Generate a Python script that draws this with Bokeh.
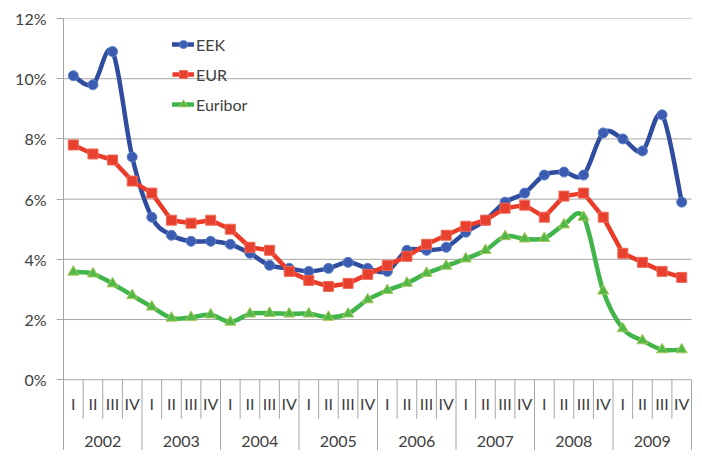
from bokeh.plotting import figure
from bokeh.models import (Range1d, FixedTicker, CustomJSTickFormatter, Legend, LegendItem,
                          ColumnDataSource, LinearAxis)
from bokeh.core.properties import value
from bokeh.embed import file_html
from bokeh.resources import INLINE

years = ["2002", "2003", "2004", "2005", "2006", "2007", "2008", "2009"]
quarters = ["I", "II", "III", "IV"]

eek = [10.1, 9.8, 10.9, 7.4, 5.4, 4.8, 4.6, 4.6, 4.5, 4.2, 3.8, 3.7,
       3.6, 3.7, 3.9, 3.7, 3.6, 4.3, 4.3, 4.4, 4.9, 5.3, 5.9, 6.2,
       6.8, 6.9, 6.8, 8.2, 8.0, 7.6, 8.8, 5.9]
eur = [7.8, 7.5, 7.3, 6.6, 6.2, 5.3, 5.2, 5.3, 5.0, 4.4, 4.3, 3.6,
       3.3, 3.1, 3.2, 3.5, 3.8, 4.1, 4.5, 4.8, 5.1, 5.3, 5.7, 5.8,
       5.4, 6.1, 6.2, 5.4, 4.2, 3.9, 3.6, 3.4]
euribor = [3.58, 3.52, 3.19, 2.8, 2.42, 2.05, 2.07, 2.16, 1.92, 2.19, 2.21, 2.19,
           2.19, 2.08, 2.19, 2.66, 2.97, 3.21, 3.54, 3.78, 4.02, 4.3, 4.76, 4.68,
           4.7, 5.15, 5.4, 2.95, 1.7, 1.3, 1.0, 1.0]

y_ticks = [0, 2, 4, 6, 8, 10, 12]

FONT = "Lato"
GRID = "#a6a6a6"
TEXT = "#404040"

n = len(eek)
xs = [i + 0.5 for i in range(n)]

p = figure(width=692, height=450, output_backend="svg", toolbar_location=None,
           x_axis_type=None, y_axis_type=None,
           x_range=Range1d(0, 32.05), y_range=Range1d(-2.35, 12.0),
           min_border_left=63, min_border_right=0, min_border_top=18, min_border_bottom=0)
p.outline_line_color = None
p.background_fill_color = "white"
p.xgrid.visible = False

yaxis = LinearAxis(ticker=FixedTicker(ticks=y_ticks),
                   formatter=CustomJSTickFormatter(code="return tick.toFixed(0) + '%';"))
yaxis.axis_line_color = GRID
yaxis.major_tick_line_color = GRID
yaxis.major_tick_out = 7
yaxis.major_tick_in = 0
yaxis.minor_tick_line_color = None
yaxis.major_label_text_font = FONT
yaxis.major_label_text_font_size = "16px"
yaxis.major_label_text_color = TEXT
yaxis.major_label_standoff = 10
p.add_layout(yaxis, "left")

# horizontal gridlines
p.segment(x0=[0] * len(y_ticks), x1=[32] * len(y_ticks), y0=y_ticks, y1=y_ticks,
          line_color=GRID, line_width=1)

# category separators
q_sep = [i for i in range(1, 32) if i % 4 != 0]
p.segment(x0=q_sep, x1=q_sep, y0=[0] * len(q_sep), y1=[-1.3] * len(q_sep),
          line_color=GRID, line_width=1)
y_sep = [4 * k for k in range(1, 9)]
p.segment(x0=y_sep, x1=y_sep, y0=[0] * len(y_sep), y1=[-2.4] * len(y_sep),
          line_color=GRID, line_width=1)

# quarter labels and year labels
q_labels = [quarters[i % 4] for i in range(n)]
p.text(x=xs, y=[-0.8] * n, text=q_labels, text_align="center", text_baseline="middle",
       text_font=value(FONT), text_font_size="16px", text_color=TEXT)
y_x = [4 * k + 2 for k in range(len(years))]
p.text(x=y_x, y=[-2.05] * len(years), text=years, text_align="center", text_baseline="middle",
       text_font=value(FONT), text_font_size="16px", text_color=TEXT)


def bezier_source(xv, yv):
    x0, y0, x1, y1, cx0, cy0, cx1, cy1 = [], [], [], [], [], [], [], []
    m = len(xv)
    for i in range(m - 1):
        xp = xv[i - 1] if i > 0 else xv[i]
        yp = yv[i - 1] if i > 0 else yv[i]
        xn = xv[i + 2] if i + 2 < m else xv[i + 1]
        yn = yv[i + 2] if i + 2 < m else yv[i + 1]
        x0.append(xv[i]); y0.append(yv[i]); x1.append(xv[i + 1]); y1.append(yv[i + 1])
        cx0.append(xv[i] + (xv[i + 1] - xp) / 6.0)
        cy0.append(yv[i] + (yv[i + 1] - yp) / 6.0)
        cx1.append(xv[i + 1] - (xn - xv[i]) / 6.0)
        cy1.append(yv[i + 1] - (yn - yv[i]) / 6.0)
    return ColumnDataSource(dict(x0=x0, y0=y0, x1=x1, y1=y1, cx0=cx0, cy0=cy0, cx1=cx1, cy1=cy1))


BLUE = "#2f4c9f"
RED = "#ea3b28"
GREEN = "#3fb54a"
LW = 4.5

items = []

# EEK (smoothed)
b1 = p.bezier(x0="x0", y0="y0", x1="x1", y1="y1", cx0="cx0", cy0="cy0", cx1="cx1", cy1="cy1",
              source=bezier_source(xs, eek), line_color=BLUE, line_width=LW, line_cap="round")
s1 = p.scatter(xs, eek, marker="circle", size=10, fill_color="#3b5cb0", line_color="#5b80c8",
               line_width=1)
items.append(LegendItem(label="EEK", renderers=[b1, s1], index=0))

# EUR (straight)
l2 = p.line(xs, eur, line_color=RED, line_width=LW, line_join="round")
s2 = p.scatter(xs, eur, marker="square", size=10, fill_color="#e8402e", line_color="#f06a58",
               line_width=1)
items.append(LegendItem(label="EUR", renderers=[l2, s2]))

# Euribor (smoothed)
b3 = p.bezier(x0="x0", y0="y0", x1="x1", y1="y1", cx0="cx0", cy0="cy0", cx1="cx1", cy1="cy1",
              source=bezier_source(xs, euribor), line_color=GREEN, line_width=LW, line_cap="round")
s3 = p.scatter(xs, euribor, marker="triangle", size=11, fill_color="#52b848", line_color="#a9c95a",
               line_width=1)
items.append(LegendItem(label="Euribor", renderers=[b3, s3], index=0))

legend = Legend(items=items, location=(109, 336), orientation="vertical",
                padding=0, margin=0, spacing=10, label_height=20, glyph_height=20, glyph_width=22,
                label_standoff=2, border_line_color=None, background_fill_alpha=0,
                label_text_font=FONT, label_text_font_size="16px", label_text_color=TEXT)
p.add_layout(legend, "center")

open("out.html", "w").write(file_html(p, INLINE))
